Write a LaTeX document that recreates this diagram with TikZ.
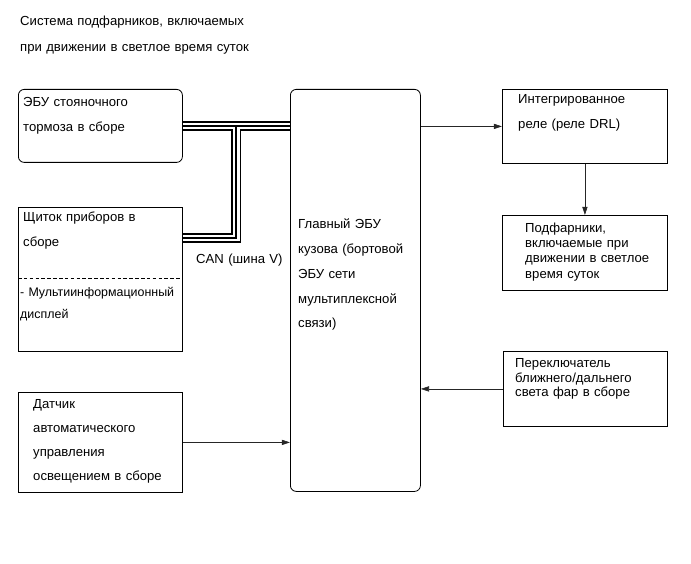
\documentclass[tikz,border=0pt]{standalone}
\usepackage{fontspec}
\setmainfont{Liberation Sans}
\usetikzlibrary{calc, positioning}
\usetikzlibrary{arrows.meta}

\tikzset{
  blk/.style={draw, line width=0.7pt, anchor=north west, inner sep=0pt},
  txt/.style={anchor=base west, inner sep=0pt, text width=7cm, align=left,
    font=\fontsize{11.2}{#1}\selectfont},
  txt/.default=20.5pt,
  arr/.style={-{Triangle[length=7pt,width=4.5pt]}, line width=0.5pt, black!85},
}

\begin{document}
\begin{tikzpicture}[x=0.03cm, y=-0.03cm]
\def\u{0.03cm}
\useasboundingbox (0,0) rectangle (691,564);

% boxes
\node[blk, rounded corners=5pt, minimum width=164*\u, minimum height=73*\u] (pbecu) at (18,89) {};
\node[blk, minimum width=164*\u, minimum height=144*\u] (meter) at (18,207) {};
\node[blk, minimum width=164*\u, minimum height=100*\u] (sensor) at (18,392) {};
\node[blk, rounded corners=5pt, minimum width=130*\u, minimum height=402*\u] (mainecu) at (290,89) {};
\node[blk, minimum width=165*\u, minimum height=74*\u] (relay) at (502,89) {};
\node[blk, minimum width=165*\u, minimum height=75*\u] (subhead) at (502,215) {};
\node[blk, minimum width=164*\u, minimum height=75*\u] (hlsw) at (503,351) {};

\draw[dashed, dash pattern=on 3pt off 2pt, line width=0.5pt]
  ($(meter.north west)+(0,71)$) -- ($(meter.north east)+(0,71)$);

% texts
\node[txt=21.4pt] (title) at (20,26) {Система подфарников, включаемых\\при движении в светлое время суток};
\node[txt] (pbtxt) at (23,107) {ЭБУ стояночного\\тормоза в сборе};
\node[txt] (metertxt) at (23,222) {Щиток приборов в\\сборе};
\node[txt, font=\fontsize{10.6}{18.5pt}\selectfont] (mitxt) at (20,297) {- Мультиинформационный\\дисплей};
\node[txt] (sensortxt) at (33,408) {Датчик\\автоматического\\управления\\освещением в сборе};
\node[txt=21.1pt] (maintxt) at (298,229) {Главный ЭБУ\\кузова (бортовой\\ЭБУ сети\\мультиплексной\\связи)};
\node[txt=21.3pt] (relaytxt) at (518,103.5) {Интегрированное\\реле (реле DRL)};
\node[txt=13pt] (subtxt) at (525,232.5) {Подфарники,\\включаемые при\\движении в светлое\\время суток};
\node[txt=12.4pt] (swtxt) at (515,367.5) {Переключатель\\ближнего/дальнего\\света фар в сборе};
\node[txt] (canlbl) at (196,264) {CAN (шина V)};

% CAN bus
\coordinate (canjoin) at ($(pbecu.east)!0.5!(mainecu.west |- pbecu.east)$);
\coordinate (canlow) at ($(meter.north east)+(0,31)$);
\foreach \w/\c in {8.5pt/black, 5.5pt/white, 1.8pt/black}
  \draw[line width=\w, \c, line join=miter] (pbecu.east) -- (mainecu.west |- pbecu.east)
    (canlow) -| (canjoin);

% signals
\draw[arr] (mainecu.east |- relay.west) -- (relay.west);
\draw[arr] (relay.south) -- (subhead.north);
\draw[arr] (hlsw.west) -- (mainecu.east |- hlsw.west);
\draw[arr] (sensor.east) -- (mainecu.west |- sensor.east);
\end{tikzpicture}
\end{document}
